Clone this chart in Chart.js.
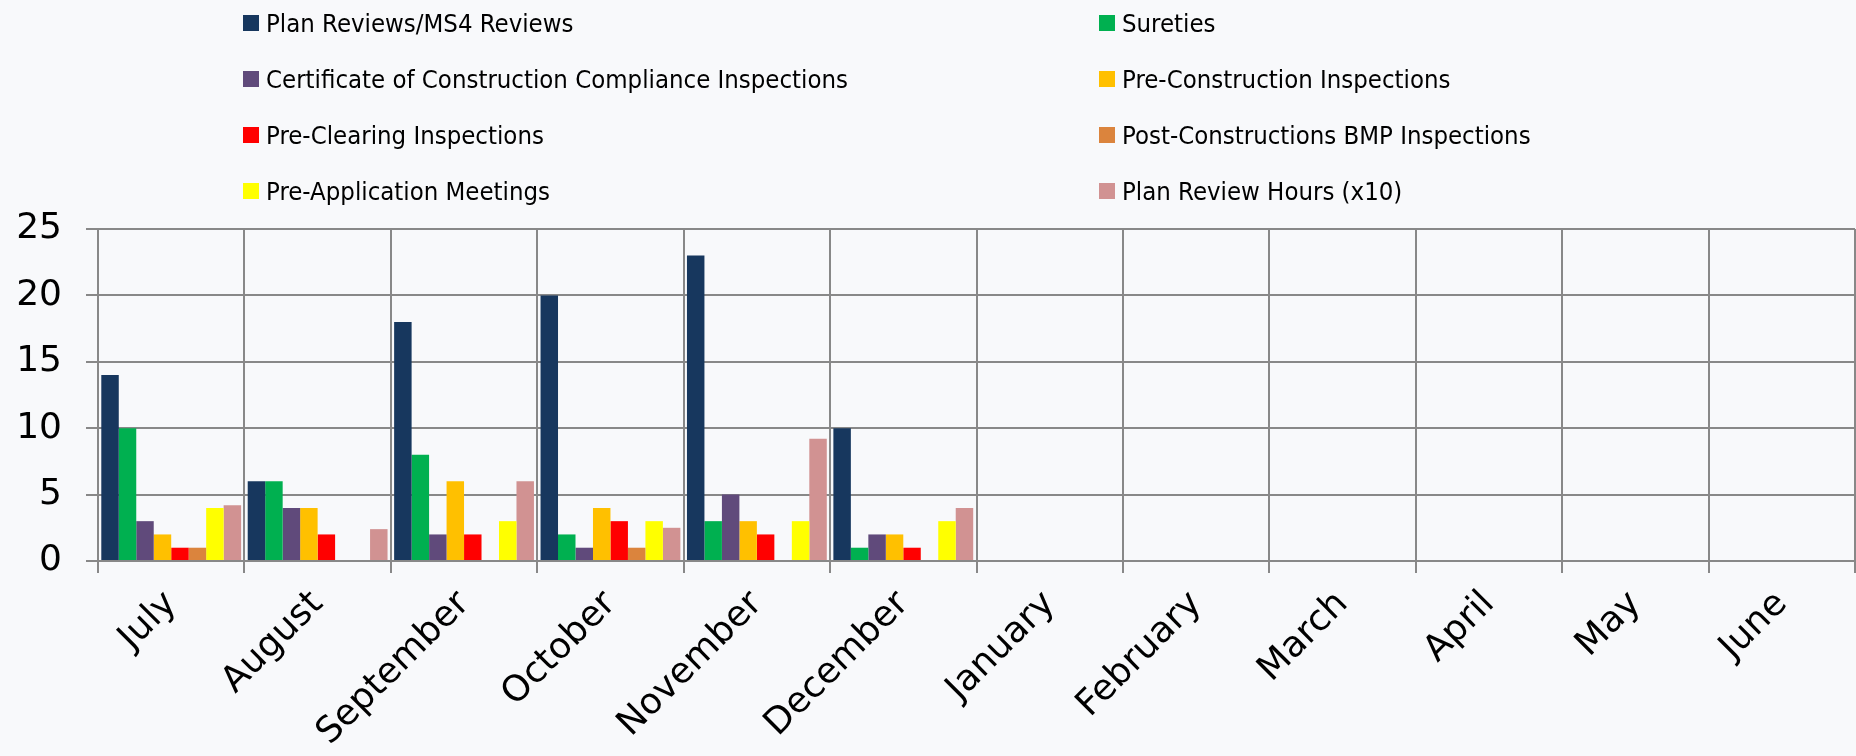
<!DOCTYPE html>
<html>
<head>
<meta charset="utf-8">
<script src="https://cdn.jsdelivr.net/npm/chart.js@4"></script>
<style>
  html, body { margin: 0; padding: 0; background: #F8F9FB; }
  #wrap { position: relative; width: 1856px; height: 756px; }
  #grafico { position: absolute; left: 0; top: 0; }
  .leyenda { position: absolute; display: flex; align-items: center; height: 30px;
             font-family: "DejaVu Sans Condensed", "DejaVu Sans", sans-serif; font-stretch: condensed;
             font-size: 25.5px; color: #000; white-space: nowrap; }
  .leyenda span.caja { display: inline-block; width: 16px; height: 16px; margin-right: 7px; }
</style>
</head>
<body>
<div id="wrap">
  <canvas id="grafico" width="1856" height="756"></canvas>
</div>
<script>
const meses = ["July", "August", "September", "October", "November", "December",
               "January", "February", "March", "April", "May", "June"];

const series = [
  "Plan Reviews/MS4 Reviews",
  "Sureties",
  "Certificate of Construction Compliance Inspections",
  "Pre-Construction Inspections",
  "Pre-Clearing Inspections",
  "Post-Constructions BMP Inspections",
  "Pre-Application Meetings",
  "Plan Review Hours (x10)"
];

const colores = ["#17375E", "#00B050", "#604A7B", "#FFC000", "#FF0000", "#DB843D", "#FFFF00", "#D19292"];

// valores por mes (julio a diciembre), el resto del año sin datos
const planReviews   = [14, 6, 18, 20, 23, 10];
const sureties      = [10, 6, 8, 2, 3, 1];
const certificados  = [3, 4, 2, 1, 5, 2];
const preConst      = [2, 4, 6, 4, 3, 2];
const preClearing   = [1, 2, 2, 3, 2, 1];
const postBMP       = [1, 0, 0, 1, 0, 0];
const preAplicacion = [4, 0, 3, 3, 3, 3];
const horasRevision = [4.2, 2.4, 6, 2.5, 9.2, 4];

const ticksY = [0, 5, 10, 15, 20, 25];

const valores = [planReviews, sureties, certificados, preConst, preClearing, postBMP, preAplicacion, horasRevision];

const gris = "#888888";
const fuenteEje = { family: "'DejaVu Sans', Verdana, sans-serif", size: 36 };

const datasets = series.map((nombre, i) => ({
  label: nombre,
  data: valores[i],
  backgroundColor: colores[i],
  borderWidth: 0,
  barPercentage: 1,
  categoryPercentage: 0.955
}));

// Leyenda en dos columnas
const wrap = document.getElementById("wrap");
series.forEach((nombre, i) => {
  const div = document.createElement("div");
  div.className = "leyenda";
  div.style.left = (i % 2 === 0 ? 243 : 1099) + "px";
  div.style.top = (23 + Math.floor(i / 2) * 56 - 15) + "px";
  div.innerHTML = `<span class="caja" style="background:${colores[i]}"></span>${nombre}`;
  wrap.appendChild(div);
});

new Chart(document.getElementById("grafico").getContext("2d"), {
  type: "bar",
  data: { labels: meses, datasets },
  options: {
    responsive: false,
    animation: false,
    layout: { padding: { top: 229, right: 1, left: 0, bottom: 0 } },
    plugins: {
      legend: { display: false },
      tooltip: { enabled: false }
    },
    scales: {
      x: {
        grid: { color: gris, lineWidth: 2, tickLength: 12, offset: true },
        border: { color: gris, width: 2 },
        ticks: { color: "#000", font: fuenteEje, minRotation: 45, maxRotation: 45, padding: 10 },
        afterFit: s => { s.height = 195; }
      },
      y: {
        min: 0,
        max: 25,
        afterBuildTicks: s => { s.ticks = ticksY.map(v => ({ value: v })); },
        grid: { color: gris, lineWidth: 2, tickLength: 12 },
        border: { color: gris, width: 2 },
        ticks: { color: "#000", font: fuenteEje, padding: 24 },
        afterFit: s => { s.width = 98; }
      }
    }
  }
});
</script>
</body>
</html>
